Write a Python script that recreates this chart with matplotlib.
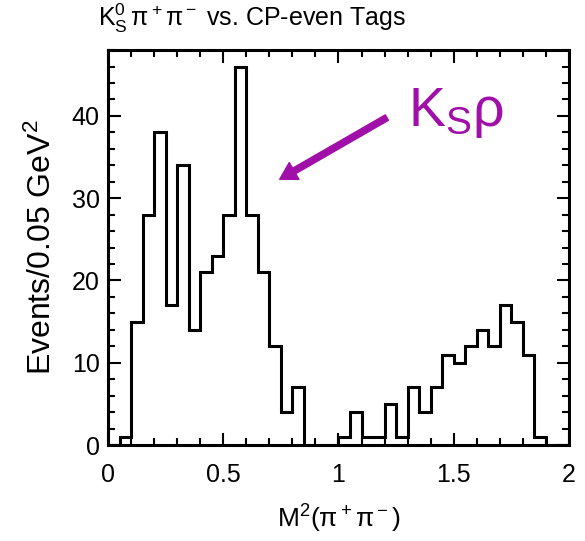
import numpy as np
import matplotlib
matplotlib.use('Agg')
import matplotlib.pyplot as plt
from matplotlib.ticker import MultipleLocator

plt.rcParams['font.family'] = ['Liberation Sans', 'DejaVu Sans']
plt.rcParams['mathtext.fontset'] = 'custom'
plt.rcParams['mathtext.rm'] = 'Liberation Sans'
plt.rcParams['mathtext.it'] = 'Liberation Sans:italic'
plt.rcParams['mathtext.sf'] = 'Liberation Sans'

# гистограмма: бины по 0.05 от 0 до 2
bin_edges = np.round(np.arange(0, 2.0001, 0.05), 2)
counts = [0, 1, 15, 28, 38, 17, 34, 14, 21, 23,
          28, 46, 28, 21, 12, 4, 7, 0, 0, 0,
          1, 4, 1, 1, 5, 1, 7, 4, 7, 11,
          10, 12, 14, 12, 17, 15, 11, 1, 0, 0]

title = r'$\mathrm{K^0_S\,\pi^+\pi^-}$ vs. CP-even Tags'
xlabel = r'M$^2$($\mathrm{\pi^+\pi^-}$)'
ylabel = 'Events/0.05 GeV$^2$'
label_text = r'$\mathrm{K_S}$ρ'
purple = '#a010a8'

fig = plt.figure(figsize=(5.85, 5.41), dpi=100)
ax = fig.add_axes([0.1846, 0.1774, 0.788, 0.730])

ax.stairs(counts, bin_edges, color='black', linewidth=2.2, baseline=0)

ax.set_xlim(0, 2)
ax.set_ylim(0, 48)
ax.xaxis.set_minor_locator(MultipleLocator(0.1))
ax.yaxis.set_major_locator(MultipleLocator(10))
ax.yaxis.set_minor_locator(MultipleLocator(2))
ax.set_xticks([0, 0.5, 1, 1.5, 2])
ax.set_xticklabels(['0', '0.5', '1', '1.5', '2'])

ax.tick_params(which='both', direction='in', top=True, right=True, labelsize=18, width=1.5)
ax.tick_params(which='major', length=9)
ax.tick_params(which='minor', length=5)
ax.tick_params(axis='x', which='major', pad=13)
ax.tick_params(axis='y', which='major', pad=6)
for s in ax.spines.values():
    s.set_linewidth(2.2)

ax.set_xlabel(xlabel, fontsize=19, labelpad=11)
ax.set_ylabel(ylabel, fontsize=23, labelpad=10)
fig.text(0.168, 0.967, title, fontsize=18, ha='left', va='center')

# стрелка и подпись K_S rho
ax.annotate('', xy=(0.745, 32.3), xytext=(1.21, 39.8),
            arrowprops=dict(arrowstyle='simple,head_length=1.2,head_width=1.4,tail_width=0.45',
                            color=purple, shrinkA=0, shrinkB=0))
ax.text(1.3, 40.3, label_text, fontsize=40, color=purple, ha='left', va='center')

fig.savefig('out.png', dpi=100)
